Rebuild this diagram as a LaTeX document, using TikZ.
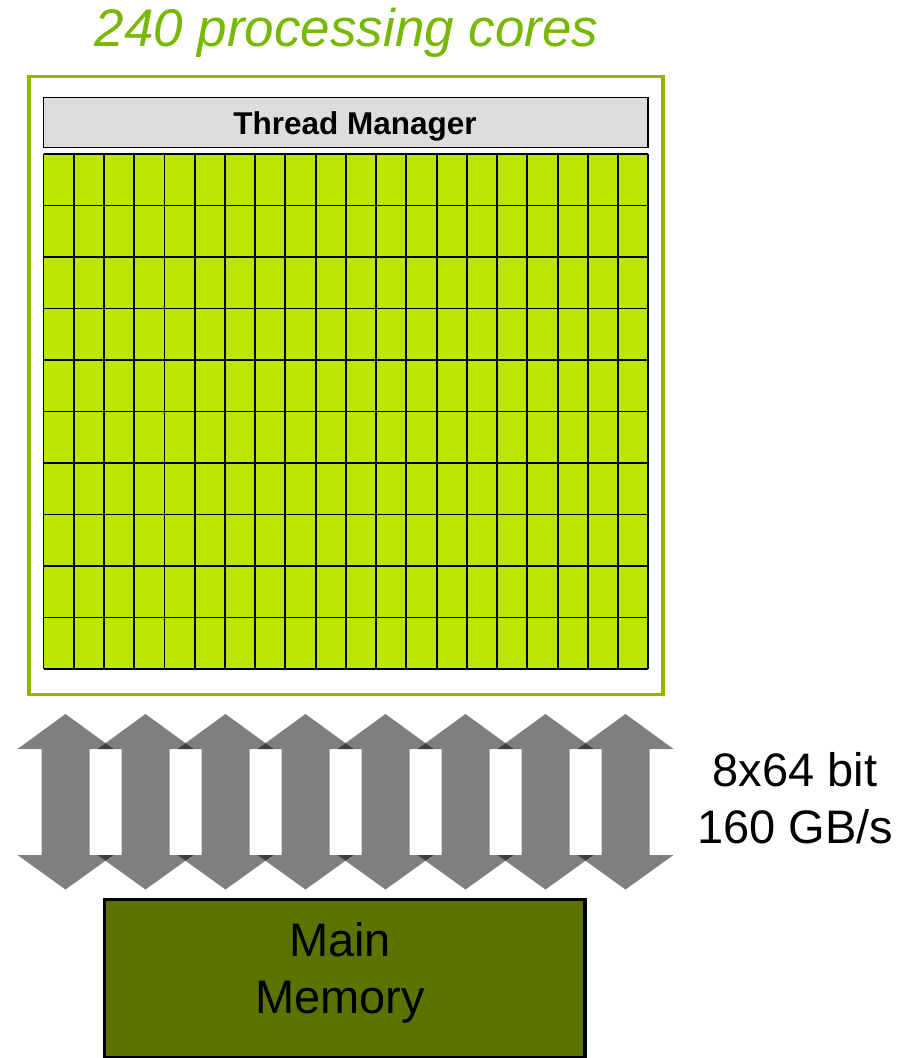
\documentclass[tikz,border=0pt]{standalone}
\usepackage{fontspec}
\setmainfont{Liberation Sans}
\definecolor{framegreen}{HTML}{92B500}
\definecolor{titlegreen}{HTML}{76B900}
\definecolor{coregreen}{HTML}{BBE600}
\definecolor{memgreen}{HTML}{5C7300}
\definecolor{mgrgray}{HTML}{DDDDDD}
\tikzset{
  chipframe/.style={draw=framegreen, line width=3.5pt},
  mgrbox/.style={draw=black, fill=mgrgray, line width=1.8pt},
  coregrid/.style={draw=black, line width=1.9pt},
  memorybox/.style={draw=black, fill=memgreen, line width=3.5pt},
  busarrow/.style={fill=black, fill opacity=0.5, draw=none},
  bigtext/.style={inner sep=0pt, anchor=base, font=\fontsize{47}{57}\selectfont},
}
\begin{document}
\begin{tikzpicture}[x=1pt, y=-1pt]
  \useasboundingbox (0,0) rectangle (901,1058);

  % heading
  \node[inner sep=0pt, anchor=base, text=titlegreen,
        font=\fontsize{53}{60}\selectfont\itshape] (title) at (346.5,46) {240 processing cores};

  % chip outline
  \draw[chipframe] (29,76.5) rectangle (663,694.5);

  % thread manager bar
  \draw[mgrbox] (43.5,97.5) rectangle (648,147.5);
  \node[inner sep=0pt, anchor=base, font=\fontsize{31.5}{36}\selectfont\bfseries] (mgr) at (355,134) {Thread Manager};

  % grid of cores: 20 columns x 10 rows
  \fill[coregreen] (43.5,154) rectangle (648.3,669);
  \foreach \i in {0,...,20} {
    \draw[coregrid] ({43.5+\i*30.24},154) -- ({43.5+\i*30.24},669);
  }
  \foreach \j in {0,...,10} {
    \draw[coregrid] (43.5,{154+\j*51.5}) -- (648.3,{154+\j*51.5});
  }

  % eight double-headed memory channels
  \foreach \k in {0,...,7} {
    \pgfmathsetmacro{\cx}{65.5+80*\k}
    \fill[busarrow] (\cx,714) -- (\cx+48,749) -- (\cx+24,749) -- (\cx+24,855)
      -- (\cx+48,855) -- (\cx,889.5) -- (\cx-48,855) -- (\cx-24,855)
      -- (\cx-24,749) -- (\cx-48,749) -- cycle;
  }

  % bus width and bandwidth
  \node[bigtext] (buswidth) at (795,786) {8x64 bit};
  \node[bigtext] (busrate) at (795,843) {160 GB/s};

  % main memory
  \draw[memorybox] (104.5,899.5) rectangle (585,1057.5);
  \node[bigtext] (memline1) at (340,956) {Main};
  \node[bigtext] (memline2) at (340,1013.3) {Memory};
\end{tikzpicture}
\end{document}
